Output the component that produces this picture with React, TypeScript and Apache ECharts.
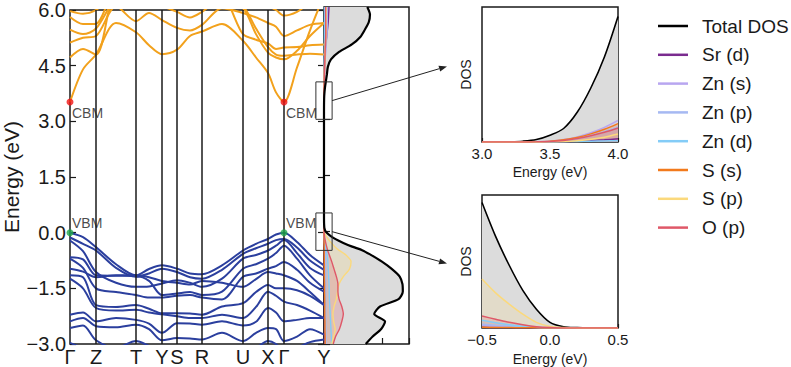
import React, { useEffect, useRef } from "react";
import * as echarts from "echarts";

const FONT = '"Liberation Sans", Arial, Helvetica, sans-serif';
const INK = "#1a1a1a";

// k-path: cumulative distance of each sample point along Γ–Z–T–Y–S–R–U–X–Γ–Y
const kPath = [0, 13, 26, 46, 66, 79, 92, 107, 120, 132, 152, 173, 186, 198, 206, 214, 227, 240, 254];
const kTicks = [0, 26, 66, 92, 107, 132, 173, 198, 214, 254];
const kNames = ["Γ", "Z", "T", "Y", "S", "R", "U", "X", "Γ", "Y"];

const CBM = 3.52;
const VBM = 0.0;

// conduction bands (eV) at each kPath point
const cb1 = [CBM, 4.4, 4.8, 5.65, 5.4, 5.05, 4.81, 4.93, 5.3, 5.42, 5.62, 5.17, 4.72, 4.3, 3.78, CBM, 4.45, 5.45, 6.4];
const cb2 = [4.72, 4.95, 4.8, 6.6, 6.7, 6.6, 6.5, 6.5, 6.5, 6.5, 6.5, 6.4, 6.2, 6.1, 6.0, 5.85, 5.95, 6.2, 6.4];
const cb3 = [5.12, 5.25, 5.3, 6.1, 5.7, 5.92, 5.73, 5.52, 5.45, 5.6, 6.05, 5.92, 5.8, 5.65, 5.55, 5.3, 5.45, 5.6, 5.65];
const cb4 = [5.47, 5.35, 5.5, 6.3, 6.4, 6.4, 6.3, 6.3, 6.25, 6.2, 6.3, 5.35, 5.2, 5.1, 4.95, 4.99, 5.0, 5.05, 5.07];
const cb5 = [5.81, 5.62, 5.63, 6.5, 6.5, 6.5, 6.5, 6.5, 6.4, 6.4, 6.4, 6.1, 5.5, 5.0, 4.8, 4.77, 4.8, 4.82, 4.8];
const cb6 = [5.97, 5.9, 6.0, 6.4, 6.3, 6.2, 6.1, 5.95, 5.8, 5.95, 6.3, 6.05, 5.35, 4.85, 4.72, 4.67, 4.9, 5.3, 5.65];

// valence bands (eV)
const vb1 = [VBM, -0.12, -0.39, -0.85, -1.15, -0.98, -0.88, -0.97, -1.1, -1.12, -0.88, -0.48, -0.3, -0.17, -0.05, VBM, -0.25, -0.6, -0.88];
const vb2 = [-0.13, -0.3, -0.48, -0.95, -1.19, -1.1, -0.97, -1.06, -1.2, -1.24, -1.0, -0.57, -0.42, -0.3, -0.2, -0.17, -0.4, -0.75, -1.0];
const vb3 = [-0.21, -0.5, -1.06, -1.35, -1.46, -1.45, -1.37, -1.28, -1.35, -1.46, -1.24, -0.7, -0.6, -0.48, -0.35, -0.2, -0.55, -0.95, -1.15];
const vb4 = [-0.66, -0.72, -1.15, -1.16, -1.17, -1.3, -1.68, -1.64, -1.6, -1.68, -1.59, -0.97, -0.85, -0.7, -0.55, -0.35, -0.7, -1.15, -1.5];
const vb5 = [-0.7, -0.95, -1.5, -1.6, -1.68, -1.75, -1.75, -1.7, -1.68, -1.75, -1.8, -1.19, -1.1, -0.97, -0.9, -0.79, -1.0, -1.35, -1.59];
const vb6 = [-0.97, -1.05, -1.2, -1.15, -1.15, -1.2, -1.3, -1.35, -1.4, -1.3, -1.35, -1.46, -1.25, -1.06, -1.1, -1.15, -1.3, -1.6, -1.95];
const vb7 = [-1.15, -1.2, -1.95, -2.0, -1.95, -2.05, -2.17, -2.17, -2.18, -2.21, -1.99, -1.9, -1.6, -1.41, -1.5, -1.5, -1.55, -1.7, -1.95];
const vb8 = [-1.24, -1.5, -2.03, -2.1, -2.08, -2.15, -2.2, -2.25, -2.3, -2.3, -2.21, -2.3, -2.0, -1.59, -1.7, -1.86, -1.95, -2.1, -2.3];
const vb9 = [-2.21, -2.15, -2.39, -2.3, -2.35, -2.45, -2.7, -2.44, -2.45, -2.48, -2.39, -2.5, -2.4, -2.03, -2.15, -2.39, -2.35, -2.3, -2.3];
const vb10 = [-2.39, -2.3, -2.52, -2.55, -2.48, -2.6, -2.9, -2.84, -2.85, -2.88, -2.7, -2.92, -2.7, -2.57, -2.6, -2.92, -2.8, -2.6, -2.75];
const vb11 = [-2.57, -2.5, -2.9, -3.1, -2.92, -3.05, -3.2, -3.2, -3.2, -3.2, -3.1, -3.2, -3.1, -2.92, -3.0, -3.2, -3.1, -2.95, -2.88];
const vb12 = [-2.97, -3.1, -3.2, -3.3, -3.3, -3.3, -3.3, -3.3, -3.3, -3.3, -3.3, -3.3, -3.3, -3.3, -3.3, -3.3, -3.3, -3.2, -3.1];

const conductionBands = [cb1, cb2, cb3, cb4, cb5, cb6];
const valenceBands = [vb1, vb2, vb3, vb4, vb5, vb6, vb7, vb8, vb9, vb10, vb11, vb12];

// density of states on a shared energy grid (eV)
const dosEnergy = [
  -3.0, -2.8, -2.6, -2.4, -2.2, -2.0, -1.8, -1.6, -1.4, -1.2, -1.0, -0.8, -0.6,
  -0.5, -0.4, -0.3, -0.2, -0.1, 0.0, 0.1, 0.2, 0.3, 0.4, 0.5,
  0.75, 1.0, 1.5, 2.0, 2.5,
  3.0, 3.1, 3.2, 3.3, 3.4, 3.5, 3.6, 3.7, 3.8, 3.9, 4.0,
  4.2, 4.4, 4.6, 4.8, 5.0, 5.2, 5.4, 5.6, 5.8, 6.0,
];
const totalDos = [
  10.8, 12.6, 14.8, 15.8, 13.0, 14.5, 19.3, 20.4, 20.3, 19.6, 17.6, 15.0, 11.8,
  10.0, 7.3, 5.0, 3.0, 1.5, 0.45, 0.1, 0.03, 0.005, 0, 0,
  0, 0, 0, 0, 0,
  0, 0.0003, 0.001, 0.003, 0.009, 0.025, 0.05, 0.11, 0.2, 0.315, 0.465,
  0.75, 1.0, 1.8, 3.9, 7.2, 9.4, 10.6, 11.6, 11.9, 11.2,
];
const srD = [
  0.15, 0.15, 0.15, 0.15, 0.12, 0.12, 0.12, 0.12, 0.1, 0.1, 0.08, 0.07, 0.06,
  0.05, 0.04, 0.03, 0.02, 0.01, 0.003, 0.001, 0, 0, 0, 0,
  0, 0, 0, 0, 0,
  0, 0, 0, 0, 0.0003, 0.0008, 0.0015, 0.003, 0.005, 0.008, 0.012,
  0.03, 0.06, 0.12, 0.25, 0.45, 0.7, 0.9, 1.1, 1.2, 1.3,
];
const znS = [
  0.4, 0.4, 0.35, 0.35, 0.3, 0.3, 0.3, 0.3, 0.3, 0.3, 0.3, 0.28, 0.25,
  0.22, 0.16, 0.11, 0.07, 0.035, 0.01, 0.003, 0.001, 0, 0, 0,
  0, 0, 0, 0, 0,
  0, 0, 0.0003, 0.0008, 0.001, 0.003, 0.009, 0.019, 0.034, 0.054, 0.08,
  0.14, 0.2, 0.3, 0.45, 0.6, 0.7, 0.8, 0.85, 0.85, 0.8,
];
const znP = [
  0.5, 0.5, 0.5, 0.45, 0.45, 0.45, 0.45, 0.45, 0.45, 0.45, 0.42, 0.4, 0.35,
  0.3, 0.22, 0.15, 0.09, 0.045, 0.015, 0.004, 0.001, 0, 0, 0,
  0, 0, 0, 0, 0,
  0, 0, 0, 0, 0.0005, 0.002, 0.006, 0.013, 0.024, 0.038, 0.055,
  0.1, 0.16, 0.25, 0.38, 0.52, 0.65, 0.75, 0.8, 0.8, 0.78,
];
const znD = [
  2.0, 1.9, 1.8, 1.7, 1.6, 1.5, 1.4, 1.35, 1.3, 1.2, 1.1, 1.0, 0.8,
  0.62, 0.42, 0.26, 0.14, 0.06, 0.02, 0.005, 0.001, 0, 0, 0,
  0, 0, 0, 0, 0,
  0, 0, 0, 0, 0, 0, 0.001, 0.002, 0.003, 0.004, 0.005,
  0.01, 0.02, 0.03, 0.05, 0.07, 0.08, 0.09, 0.1, 0.1, 0.1,
];
const sS = [
  0.3, 0.3, 0.25, 0.25, 0.2, 0.2, 0.2, 0.15, 0.15, 0.1, 0.1, 0.08, 0.06,
  0.05, 0.04, 0.03, 0.02, 0.01, 0.004, 0.001, 0, 0, 0, 0,
  0, 0, 0, 0, 0,
  0, 0, 0, 0, 0.0008, 0.003, 0.008, 0.017, 0.03, 0.047, 0.068,
  0.11, 0.16, 0.22, 0.3, 0.38, 0.45, 0.5, 0.5, 0.48, 0.45,
];
const sP = [
  2.0, 2.5, 2.9, 2.5, 2.3, 2.6, 3.2, 3.5, 3.9, 5.0, 6.6, 7.0, 5.4,
  3.9, 2.8, 1.9, 1.1, 0.45, 0.12, 0.03, 0.008, 0.002, 0, 0,
  0, 0, 0, 0, 0,
  0, 0, 0, 0, 0, 0.001, 0.002, 0.005, 0.01, 0.018, 0.03,
  0.06, 0.1, 0.16, 0.25, 0.35, 0.45, 0.55, 0.6, 0.6, 0.58,
];
const oP = [
  2.4, 3.0, 4.0, 4.6, 5.0, 4.6, 3.9, 3.6, 3.6, 3.2, 2.6, 2.0, 1.3,
  0.95, 0.7, 0.45, 0.25, 0.1, 0.03, 0.008, 0.002, 0, 0, 0,
  0, 0, 0, 0, 0,
  0, 0, 0, 0, 0.0005, 0.002, 0.006, 0.013, 0.023, 0.036, 0.052,
  0.09, 0.14, 0.2, 0.28, 0.36, 0.42, 0.45, 0.45, 0.42, 0.4,
];

const dosNames = ["Total DOS", "Sr (d)", "Zn (s)", "Zn (p)", "Zn (d)", "S (s)", "S (p)", "O (p)"];
const dosValues = [totalDos, srD, znS, znP, znD, sS, sP, oP];
const dosColors = ["#000000", "#7a2b8f", "#b8a6f0", "#a6b9f2", "#84ccf7", "#f27a1c", "#fbd97c", "#df5868"];

const BAND_CB = "#f2a11c";
const BAND_VB = "#2b3f9e";

const fmt = (v: number) => v.toFixed(1).replace("-", "\u2212");

function buildOption() {
  const series: any[] = [];

  // band structure
  conductionBands.concat(valenceBands).forEach((b, bi) => {
    series.push({
      type: "line",
      xAxisIndex: 0,
      yAxisIndex: 0,
      data: kPath.map((k, i) => [k, b[i]]),
      smooth: 0.3,
      symbol: "none",
      silent: true,
      z: 3,
      lineStyle: { color: bi < conductionBands.length ? BAND_CB : BAND_VB, width: 2 },
      markLine:
        bi === 0
          ? {
              silent: true,
              symbol: "none",
              label: { show: false },
              lineStyle: { color: INK, width: 1.5, type: "solid" },
              data: kTicks.slice(1, -1).map((k) => ({ xAxis: k })),
            }
          : undefined,
    });
  });

  // band edges
  series.push({
    type: "scatter",
    xAxisIndex: 0,
    yAxisIndex: 0,
    symbolSize: 7,
    z: 5,
    itemStyle: { color: "#f01414" },
    data: [[kTicks[0], CBM], [kTicks[8], CBM]],
    label: {
      show: true,
      formatter: "CBM",
      position: [5.5, 7.5],
      align: "left",
      verticalAlign: "top",
      fontSize: 14,
      color: INK,
      fontFamily: FONT,
    },
  });
  series.push({
    type: "scatter",
    xAxisIndex: 0,
    yAxisIndex: 0,
    symbolSize: 7,
    z: 5,
    itemStyle: { color: "#1fa64a" },
    data: [[kTicks[0], VBM], [kTicks[8], VBM]],
    label: {
      show: true,
      formatter: "VBM",
      position: [5.5, -13.5],
      align: "left",
      verticalAlign: "top",
      fontSize: 14,
      color: INK,
      fontFamily: FONT,
    },
  });

  // DOS panel: named line series first, so the legend takes their colours
  dosValues.forEach((vals, i) => {
    series.push({
      name: dosNames[i],
      type: "line",
      xAxisIndex: 1,
      yAxisIndex: 2,
      color: dosColors[i],
      data: dosEnergy.map((e, j) => [vals[j], e]),
      smooth: 0.25,
      symbol: "none",
      silent: true,
      z: i === 0 ? 4 : 3,
      lineStyle: { color: dosColors[i], width: i === 0 ? 2.2 : 1.4 },
    });
  });

  // filled areas in the DOS panel (DOS runs horizontally, so fill towards DOS = 0)
  dosValues.forEach((vals, i) => {
    series.push({
      type: "custom",
      xAxisIndex: 1,
      yAxisIndex: 2,
      silent: true,
      z: i === 0 ? 1 : 2,
      data: [[0, 0]],
      renderItem: (_p: any, api: any) => {
        const pts: number[][] = [api.coord([0, dosEnergy[0]])];
        dosEnergy.forEach((e, j) => pts.push(api.coord([vals[j], e])));
        pts.push(api.coord([0, dosEnergy[dosEnergy.length - 1]]));
        return {
          type: "polygon",
          shape: { points: pts },
          style: { fill: i === 0 ? "#dcdcdc" : dosColors[i], opacity: i === 0 ? 1 : 0.22 },
        };
      },
    });
  });

  // zoomed views near the band edges
  const insets = [
    { x: 2, y: 3, lo: 3.0, hi: 4.0 },
    { x: 3, y: 4, lo: -0.5, hi: 0.5 },
  ];
  insets.forEach((ins) => {
    dosValues.forEach((vals, i) => {
      series.push({
        name: dosNames[i],
        type: "line",
        xAxisIndex: ins.x,
        yAxisIndex: ins.y,
        color: dosColors[i],
        data: dosEnergy
          .map((e, j) => [e, vals[j]])
          .filter(([e]) => e >= ins.lo - 1e-9 && e <= ins.hi + 1e-9),
        smooth: 0.3,
        symbol: "none",
        silent: true,
        z: i === 0 ? 2 : 3,
        lineStyle: { color: dosColors[i], width: i === 0 ? 1.6 : 1.5 },
        areaStyle: { color: i === 0 ? "#dcdcdc" : dosColors[i], opacity: i === 0 ? 1 : 0.2 },
      });
    });
  });

  const gridBase = { show: true, borderColor: INK, borderWidth: 1.5, backgroundColor: "transparent" };
  const tickInside = (len: number) => ({ show: true, inside: true, length: len, lineStyle: { color: INK, width: 1.2 } });
  const noLine = { show: false, onZero: false };

  return {
    animation: false,
    backgroundColor: "#ffffff",
    textStyle: { fontFamily: FONT },
    grid: [
      { ...gridBase, left: 70, top: 7, width: 254, height: 337 },
      { ...gridBase, left: 324, top: 7, width: 85, height: 337 },
      { ...gridBase, left: 482, top: 7, width: 136, height: 135 },
      { ...gridBase, left: 482, top: 195, width: 136, height: 134 },
    ],
    xAxis: [
      {
        type: "value",
        gridIndex: 0,
        min: 0,
        max: 254,
        axisLine: noLine,
        axisTick: { show: false },
        splitLine: { show: false },
        axisLabel: {
          customValues: kTicks,
          margin: 3,
          fontSize: 20,
          color: INK,
          fontFamily: FONT,
          formatter: (v: number) => {
            const i = kTicks.findIndex((t) => Math.abs(t - v) < 1e-6);
            return i >= 0 ? kNames[i] : "";
          },
        },
      },
      {
        type: "value",
        gridIndex: 1,
        min: 0,
        max: 22,
        interval: 15,
        axisLine: noLine,
        axisTick: tickInside(6),
        axisLabel: { show: false },
        splitLine: { show: false },
      },
      {
        type: "value",
        gridIndex: 2,
        min: 3.0,
        max: 4.0,
        interval: 0.5,
        axisLine: noLine,
        axisTick: tickInside(4),
        splitLine: { show: false },
        axisLabel: { fontSize: 15, color: INK, margin: 4, fontFamily: FONT, formatter: fmt },
        name: "Energy (eV)",
        nameLocation: "middle",
        nameGap: 23,
        nameTextStyle: { fontSize: 14, color: INK, fontFamily: FONT },
      },
      {
        type: "value",
        gridIndex: 3,
        min: -0.5,
        max: 0.5,
        interval: 0.5,
        axisLine: noLine,
        axisTick: tickInside(4),
        splitLine: { show: false },
        axisLabel: { fontSize: 15, color: INK, margin: 4, fontFamily: FONT, formatter: fmt },
        name: "Energy (eV)",
        nameLocation: "middle",
        nameGap: 24,
        nameTextStyle: { fontSize: 14, color: INK, fontFamily: FONT },
      },
    ],
    yAxis: [
      {
        type: "value",
        gridIndex: 0,
        min: -3,
        max: 6,
        interval: 1.5,
        axisLine: noLine,
        axisTick: tickInside(6),
        splitLine: { show: false },
        axisLabel: { fontSize: 20, color: INK, margin: 4, fontFamily: FONT, formatter: fmt },
        name: "Energy (eV)",
        nameLocation: "middle",
        nameRotate: 90,
        nameGap: 48,
        nameTextStyle: { fontSize: 21, color: INK, fontFamily: FONT },
      },
      {
        type: "value",
        gridIndex: 0,
        position: "right",
        min: -3,
        max: 6,
        interval: 1.5,
        axisLine: noLine,
        axisTick: tickInside(6),
        axisLabel: { show: false },
        splitLine: { show: false },
      },
      {
        type: "value",
        gridIndex: 1,
        min: -3,
        max: 6,
        interval: 1.5,
        axisLine: noLine,
        axisTick: tickInside(6),
        axisLabel: { show: false },
        splitLine: { show: false },
      },
      {
        type: "value",
        gridIndex: 2,
        min: 0,
        max: 0.5,
        axisLine: noLine,
        axisTick: { show: false },
        axisLabel: { show: false },
        splitLine: { show: false },
        name: "DOS",
        nameLocation: "middle",
        nameRotate: 90,
        nameGap: 9,
        nameTextStyle: { fontSize: 14, color: INK, fontFamily: FONT },
      },
      {
        type: "value",
        gridIndex: 3,
        min: 0,
        max: 10.6,
        axisLine: noLine,
        axisTick: { show: false },
        axisLabel: { show: false },
        splitLine: { show: false },
        name: "DOS",
        nameLocation: "middle",
        nameRotate: 90,
        nameGap: 9,
        nameTextStyle: { fontSize: 14, color: INK, fontFamily: FONT },
      },
    ],
    legend: {
      data: dosNames,
      orient: "vertical",
      left: 653,
      top: 11,
      icon: "rect",
      itemWidth: 30,
      itemHeight: 2.5,
      itemGap: 8.8,
      selectedMode: false,
      textStyle: { fontSize: 19, color: INK, fontFamily: FONT, lineHeight: 20, padding: [0, 0, 0, 9] },
    },
    series,
  };
}

function arrowGraphics(chart: any) {
  const px = (g: number, v: number[]) => chart.convertToPixel({ gridIndex: g }, v) as number[];
  const els: any[] = [];
  const boxes = [
    { lo: 3.0, hi: 4.0, from: 3.5, inset: 2, xr: [3.0, 4.0], yr: [0, 0.5], frac: 0.56 },
    { lo: -0.5, hi: 0.5, from: 0.0, inset: 3, xr: [-0.5, 0.5], yr: [0, 10.6], frac: 0.485 },
  ];
  boxes.forEach((b) => {
    const tl = px(1, [-2.1, b.hi]);
    const br = px(1, [2.1, b.lo]);
    els.push({
      type: "rect",
      z: 20,
      shape: { x: tl[0], y: tl[1], width: br[0] - tl[0], height: br[1] - tl[1] },
      style: { fill: "none", stroke: "#333333", lineWidth: 1 },
    });
    const start = [br[0], px(1, [0, b.from])[1]];
    const insetLeft = px(b.inset, [b.xr[0], b.yr[0]])[0];
    const tipY = px(b.inset, [b.xr[0], b.yr[0] + (b.yr[1] - b.yr[0]) * b.frac])[1];
    const tip = [insetLeft - 35, tipY];
    const dx = tip[0] - start[0];
    const dy = tip[1] - start[1];
    const len = Math.hypot(dx, dy);
    const ux = dx / len;
    const uy = dy / len;
    const head = 8;
    const half = 3;
    const base = [tip[0] - ux * head, tip[1] - uy * head];
    els.push({
      type: "line",
      z: 20,
      shape: { x1: start[0], y1: start[1], x2: base[0], y2: base[1] },
      style: { stroke: "#222222", lineWidth: 1 },
    });
    els.push({
      type: "polygon",
      z: 20,
      shape: {
        points: [
          tip,
          [base[0] - uy * half, base[1] + ux * half],
          [base[0] + uy * half, base[1] - ux * half],
        ],
      },
      style: { fill: "#222222" },
    });
  });
  return els;
}

export default function App() {
  const ref = useRef<HTMLDivElement>(null);
  useEffect(() => {
    if (!ref.current) return;
    const chart = echarts.init(ref.current, null, { renderer: "svg" });
    chart.setOption(buildOption() as any);
    chart.setOption({ graphic: { elements: arrowGraphics(chart) } } as any);
    return () => chart.dispose();
  }, []);
  return (
    <div
      ref={ref}
      style={{ position: "fixed", left: 0, top: 0, width: 791, height: 367, background: "#fff" }}
    />
  );
}
